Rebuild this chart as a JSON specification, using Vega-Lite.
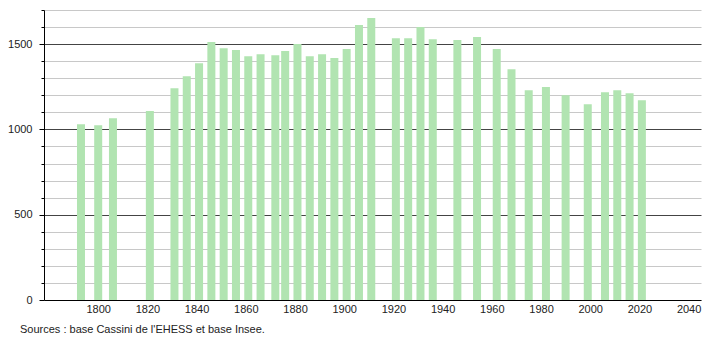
{
  "$schema": "https://vega.github.io/schema/vega-lite/v6.json",
  "autosize": {"type": "none"},
  "width": 657,
  "height": 290,
  "padding": {"left": 44, "top": 10, "right": 9, "bottom": 40},
  "background": "white",
  "config": {"view": {"stroke": null}, "font": "Liberation Sans"},
  "title": {
    "text": "Sources : base Cassini de l'EHESS et base Insee.",
    "orient": "bottom",
    "anchor": "start",
    "frame": "group",
    "dx": -24,
    "offset": 10,
    "fontSize": 11,
    "fontWeight": "normal",
    "font": "Liberation Sans",
    "color": "#222"
  },
  "data": {
    "values": [
      {"year": 1793, "pop": 1030},
      {"year": 1800, "pop": 1024},
      {"year": 1806, "pop": 1065},
      {"year": 1821, "pop": 1108},
      {"year": 1831, "pop": 1241},
      {"year": 1836, "pop": 1312},
      {"year": 1841, "pop": 1388},
      {"year": 1846, "pop": 1512},
      {"year": 1851, "pop": 1476},
      {"year": 1856, "pop": 1465},
      {"year": 1861, "pop": 1429},
      {"year": 1866, "pop": 1441},
      {"year": 1872, "pop": 1435},
      {"year": 1876, "pop": 1459},
      {"year": 1881, "pop": 1500},
      {"year": 1886, "pop": 1429},
      {"year": 1891, "pop": 1441},
      {"year": 1896, "pop": 1418},
      {"year": 1901, "pop": 1471},
      {"year": 1906, "pop": 1612},
      {"year": 1911, "pop": 1653},
      {"year": 1921, "pop": 1535},
      {"year": 1926, "pop": 1535},
      {"year": 1931, "pop": 1600},
      {"year": 1936, "pop": 1529},
      {"year": 1946, "pop": 1524},
      {"year": 1954, "pop": 1541},
      {"year": 1962, "pop": 1471},
      {"year": 1968, "pop": 1353},
      {"year": 1975, "pop": 1229},
      {"year": 1982, "pop": 1249},
      {"year": 1990, "pop": 1200},
      {"year": 1999, "pop": 1147},
      {"year": 2006, "pop": 1218},
      {"year": 2011, "pop": 1229},
      {"year": 2016, "pop": 1212},
      {"year": 2021, "pop": 1171}
    ]
  },
  "mark": {"type": "bar", "width": 8, "color": "#b1e4b1"},
  "encoding": {
    "x": {
      "field": "year",
      "type": "quantitative",
      "scale": {"domain": [1780, 2043], "nice": false, "zero": false},
      "axis": {
        "title": null,
        "values": [1800, 1820, 1840, 1860, 1880, 1900, 1920, 1940, 1960, 1980, 2000, 2020, 2040],
        "format": "d",
        "grid": false,
        "ticks": false,
        "labelPadding": 3,
        "labelFontSize": 11,
        "labelColor": "#222",
        "labelFont": "Liberation Sans",
        "domainColor": "#000",
        "domainWidth": 1,
        "labelFlush": false,
        "labelOverlap": false
      }
    },
    "y": {
      "field": "pop",
      "type": "quantitative",
      "scale": {"domain": [0, 1700], "nice": false},
      "axis": {
        "title": null,
        "values": [0, 100, 200, 300, 400, 500, 600, 700, 800, 900, 1000, 1100, 1200, 1300, 1400, 1500, 1600, 1700],
        "labelExpr": "datum.value % 500 === 0 ? datum.value : ''",
        "grid": true,
        "gridColor": {"condition": {"test": "datum.value % 500 === 0 && datum.value > 0", "value": "#444"}, "value": "#c8c8c8"},
        "gridWidth": 1,
        "tickColor": "#000",
        "tickSize": {"condition": {"test": "datum.value % 500 === 0", "value": 5}, "value": 3},
        "labelPadding": 7,
        "labelFontSize": 11,
        "labelColor": "#222",
        "labelFont": "Liberation Sans",
        "domainColor": "#000",
        "labelFlush": false,
        "labelOverlap": false
      }
    }
  }
}
